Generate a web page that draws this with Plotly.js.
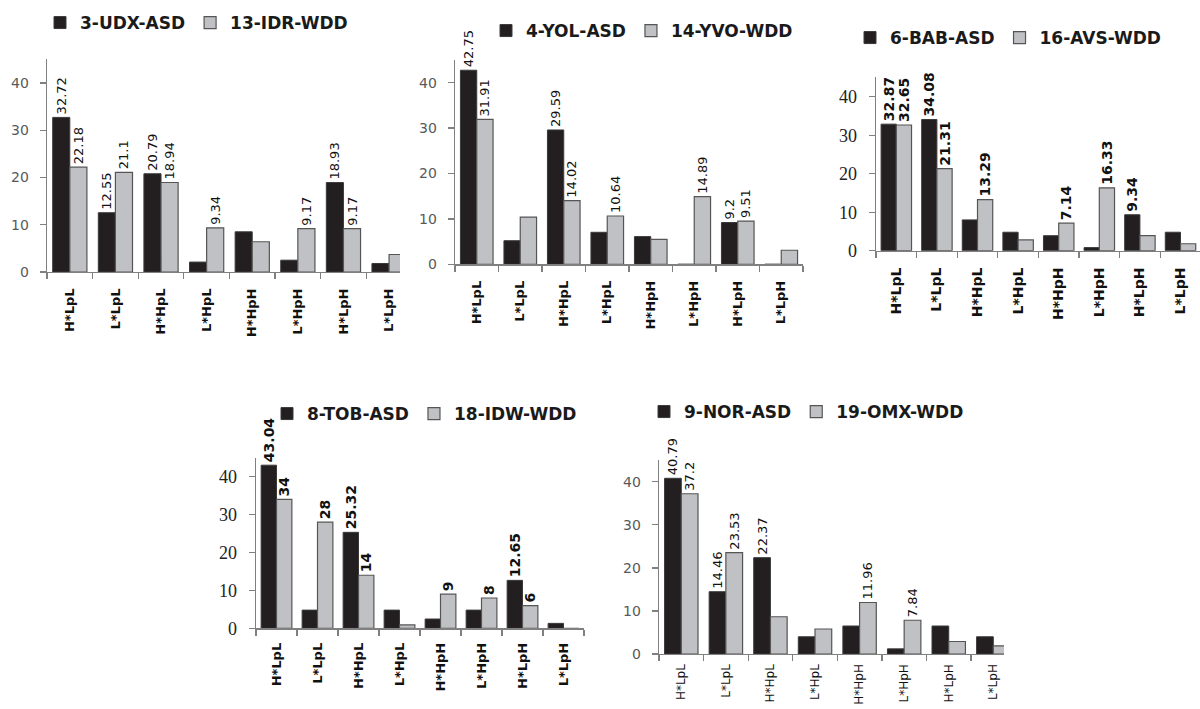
<!DOCTYPE html>
<html><head><meta charset="utf-8">
<script src="https://cdn.plot.ly/plotly-3.0.1.min.js"></script>
<style>html,body{margin:0;padding:0;background:#fff}#chart{width:1200px;height:709px}</style>
</head><body><div id="chart"></div>
<script>
const categories = ['H*LpL','L*LpL','H*HpL','L*HpL','H*HpH','L*HpH','H*LpH','L*LpH'];

const p1Names = ['3-UDX-ASD','13-IDR-WDD'];
const p1Asd = [32.72,12.55,20.79,2.1,8.5,2.5,18.93,1.8];
const p1Wdd = [22.18,21.1,18.94,9.34,6.4,9.17,9.17,3.7];
const p1AsdLabels = ['32.72','12.55','20.79','','','','18.93',''];
const p1WddLabels = ['22.18','21.1','18.94','9.34','','9.17','9.17',''];

const p2Names = ['4-YOL-ASD','14-YVO-WDD'];
const p2Asd = [42.75,5.2,29.59,7.05,6.1,0,9.2,0];
const p2Wdd = [31.91,10.4,14.02,10.64,5.5,14.89,9.51,3.1];
const p2AsdLabels = ['42.75','','29.59','','','','9.2',''];
const p2WddLabels = ['31.91','','14.02','10.64','','14.89','9.51',''];

const p3Names = ['6-BAB-ASD','16-AVS-WDD'];
const p3Asd = [32.87,34.08,8.0,4.8,3.9,0.8,9.34,4.8];
const p3Wdd = [32.65,21.31,13.29,2.8,7.14,16.33,3.9,1.8];
const p3AsdLabels = ['32.87','34.08','','','','','9.34',''];
const p3WddLabels = ['32.65','21.31','13.29','','7.14','16.33','',''];

const p4Names = ['8-TOB-ASD','18-IDW-WDD'];
const p4Asd = [43.04,4.8,25.32,4.8,2.45,4.8,12.65,1.3];
const p4Wdd = [34,28,14,0.9,9,8,6,0];
const p4AsdLabels = ['43.04','','25.32','','','','12.65',''];
const p4WddLabels = ['34','28','14','','9','8','6',''];

const p5Names = ['9-NOR-ASD','19-OMX-WDD'];
const p5Asd = [40.79,14.46,22.37,4.0,6.5,1.2,6.5,4.0];
const p5Wdd = [37.2,23.53,8.65,5.8,11.96,7.84,2.9,1.9];
const p5AsdLabels = ['40.79','14.46','22.37','','','','',''];
const p5WddLabels = ['37.2','23.53','','','11.96','7.84','',''];

const W = 1200, H = 709;
const SANS = 'DejaVu Sans, Verdana, sans-serif';
const SERIF = 'Liberation Serif, Times New Roman, serif';

const panels = [
  {names:p1Names, asd:p1Asd, wdd:p1Wdd, la:p1AsdLabels, lw:p1WddLabels, l:47, r:400, y0:272, ppu:4.725, xend:7.24,
   tickFont:{family:SANS,size:14,color:'#595959'}, valFont:{family:SANS,size:13,color:'#111'}, catFont:{family:SANS,size:13,color:'#111',weight:'bold'},
   standoff:10, leg:{x:40,y:5}},
  {names:p2Names, asd:p2Asd, wdd:p2Wdd, la:p2AsdLabels, lw:p2WddLabels, l:455, r:803, y0:264.3, ppu:4.54, xend:7.5,
   tickFont:{family:SANS,size:14,color:'#595959'}, valFont:{family:SANS,size:13,color:'#111'}, catFont:{family:SANS,size:13,color:'#111',weight:'bold'},
   standoff:10, leg:{x:486,y:13}},
  {names:p3Names, asd:p3Asd, wdd:p3Wdd, la:p3AsdLabels, lw:p3WddLabels, l:876, r:1200, y0:250.7, ppu:3.85, xend:7.48,
   tickFont:{family:SERIF,size:18,color:'#222'}, valFont:{family:SANS,size:14,color:'#111',weight:'bold'}, catFont:{family:SANS,size:14,color:'#111',weight:'bold'},
   standoff:10, leg:{x:850,y:20}},
  {names:p4Names, asd:p4Asd, wdd:p4Wdd, la:p4AsdLabels, lw:p4WddLabels, l:256, r:584, y0:628.3, ppu:3.79, xend:7.5,
   tickFont:{family:SERIF,size:18,color:'#222'}, valFont:{family:SANS,size:14,color:'#111',weight:'bold'}, catFont:{family:SANS,size:13,color:'#111',weight:'bold'},
   standoff:8, leg:{x:267,y:396}},
  {names:p5Names, asd:p5Asd, wdd:p5Wdd, la:p5AsdLabels, lw:p5WddLabels, l:659, r:1004, y0:654, ppu:4.3075, xend:7.24,
   tickFont:{family:SANS,size:14,color:'#595959'}, valFont:{family:SANS,size:13,color:'#111'}, catFont:{family:SANS,size:12,color:'#111'},
   standoff:4, leg:{x:644,y:394}}
];

const data = [];
const layout = {
  width: W, height: H,
  margin: {l:0, r:0, t:0, b:0},
  paper_bgcolor: '#fff', plot_bgcolor: 'rgba(0,0,0,0)',
  barmode: 'group', bargap: 0.25, bargroupgap: 0,
  showlegend: true
};

panels.forEach((p, i) => {
  const n = i + 1;
  const xa = n === 1 ? 'x' : 'x' + n;
  const ya = n === 1 ? 'y' : 'y' + n;
  const lg = n === 1 ? 'legend' : 'legend' + n;
  const common = {
    type: 'bar', x: categories, xaxis: xa, yaxis: ya, legend: lg,
    textposition: 'outside', textangle: -90, cliponaxis: false, constraintext: 'none',
    textfont: p.valFont, outsidetextfont: p.valFont, hoverinfo: 'x+y'
  };
  data.push(Object.assign({}, common, {
    name: p.names[0], y: p.asd, text: p.la,
    marker: {color: '#231f20', line: {color: '#3a3a3a', width: 1}}
  }));
  data.push(Object.assign({}, common, {
    name: p.names[1], y: p.wdd, text: p.lw,
    marker: {color: '#c0c1c4', line: {color: '#555555', width: 1.2}}
  }));
  const top = p.y0 - 45 * p.ppu;
  layout[n === 1 ? 'xaxis' : 'xaxis' + n] = {
    domain: [p.l / W, p.r / W], anchor: ya, type: 'category',
    range: [-0.5, p.xend], showline: true, linecolor: '#808080', linewidth: 1.3,
    ticks: 'outside', tickson: 'boundaries', ticklen: 6, tickcolor: '#808080', tickwidth: 1.3,
    tickangle: -90, tickfont: p.catFont, ticklabelstandoff: p.standoff,
    showgrid: false, zeroline: false, fixedrange: true
  };
  layout[n === 1 ? 'yaxis' : 'yaxis' + n] = {
    domain: [1 - p.y0 / H, 1 - top / H], anchor: xa,
    range: [0, 45], tick0: 0, dtick: 10, showline: true, linecolor: '#808080', linewidth: 1.3,
    ticks: 'outside', ticklen: 6, tickcolor: '#808080', tickwidth: 1.3,
    tickfont: p.tickFont, ticklabelstandoff: 8,
    showgrid: false, zeroline: false, fixedrange: true
  };
  layout[lg] = {
    orientation: 'h', x: p.leg.x / W, y: 1 - p.leg.y / H, xanchor: 'left', yanchor: 'top',
    font: {family: SANS, size: 17, color: '#1a1a1a', weight: 'bold'},
    bgcolor: 'rgba(0,0,0,0)', borderwidth: 0, traceorder: 'normal'
  };
});

Plotly.newPlot('chart', data, layout, {displayModeBar: false, staticPlot: true});
</script>
</body></html>
